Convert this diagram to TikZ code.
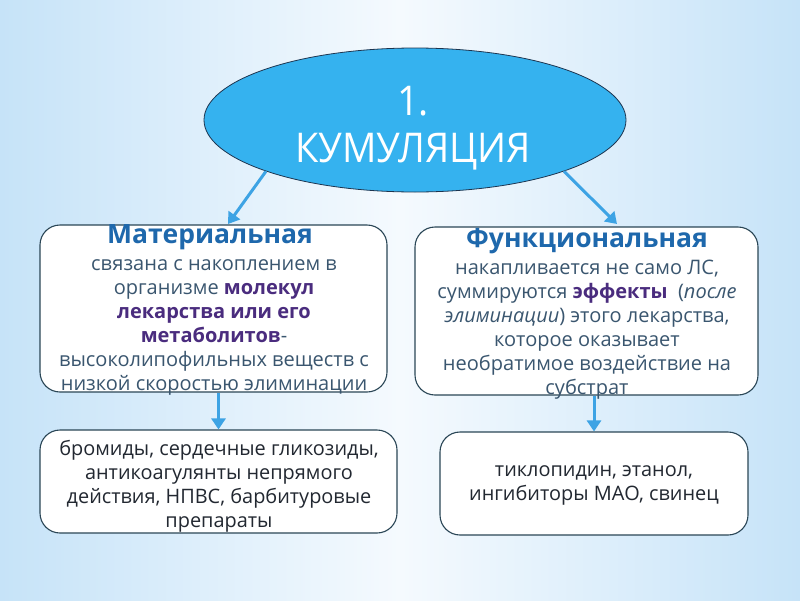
\documentclass[tikz,border=0pt]{standalone}
\usepackage{fontspec}
\setmainfont{Open Sans}
\newfontfamily\ellfont[FakeStretch=0.93]{Open Sans}
\usetikzlibrary{arrows.meta,shapes.geometric}
\definecolor{bgin}{HTML}{F5FAFE}
\definecolor{bgout}{HTML}{C6E3F8}
\definecolor{ellfill}{HTML}{35B2EF}
\definecolor{ellline}{HTML}{1D3550}
\definecolor{arrcol}{HTML}{3DA3E4}
\definecolor{boxline}{HTML}{2A4656}
\definecolor{ttlcol}{HTML}{1E68AC}
\definecolor{bodycol}{HTML}{3A566F}
\definecolor{purp}{HTML}{4A2C7E}
\definecolor{rescol}{HTML}{222831}
\tikzset{
  ellnode/.style={ellipse, draw=ellline, line width=0.8pt, fill=ellfill, inner sep=0pt},
  elltext/.style={text=white, align=center, font=\ellfont\fontsize{41}{47}\selectfont, inner sep=0pt},
  roundbox/.style={draw=boxline, line width=1.1pt, fill=white, rounded corners=20pt, inner sep=0pt},
  ttl/.style={text=ttlcol, font=\bfseries\fontsize{26.5}{30}\selectfont, inner sep=0pt},
  bodytxt/.style={text=bodycol, align=center, font=\fontsize{20}{24}\selectfont, inner sep=0pt},
  restxt/.style={text=rescol, align=center, font=\fontsize{19.9}{24}\selectfont, inner sep=0pt},
  arr/.style={draw=arrcol, line width=3pt, -{Triangle[width=14pt,length=11pt]}}
}
\begin{document}
\begin{tikzpicture}[x=1pt,y=-1pt]
\path[use as bounding box] (0,0) rectangle (800,600);
\shade[left color=bgout, right color=bgout, middle color=bgin] (0,0) rectangle (800,600);

% ellipse
\node[ellnode, minimum width=422pt, minimum height=144pt] (ell) at (415,120) {};
\node[elltext] (elltxt) at (413,128) {1.\\КУМУЛЯЦИЯ};

% upper boxes
\node[roundbox, minimum width=347pt, minimum height=167pt] (lbox) at (213.5,308.5) {};
\node[roundbox, minimum width=343pt, minimum height=168pt] (rbox) at (586.5,311) {};

% lower boxes
\node[roundbox, minimum width=357pt, minimum height=103pt] (lres) at (218.5,481.5) {};
\node[roundbox, minimum width=308pt, minimum height=103pt] (rres) at (594,483.5) {};

% connector endpoints
\coordinate (lin) at (228,224);
\coordinate (rin) at (617,224);

% arrows
\draw[arr] (ell.199) -- (lin);
\draw[arr] (ell.341) -- (rin);
\draw[arr] (lbox.south -| lres.north) -- (lres.north);
\draw[arr] (rbox.south -| rres.north) -- (rres.north);

% texts of the upper boxes
\node[ttl] (lttl) at (210,237) {Материальная};
\node[bodytxt] (ltxt) at (214,327) {связана с накоплением в\\
организме \textbf{\color{purp}молекул}\\
\textbf{\color{purp}лекарства или его}\\
\textbf{\color{purp}метаболитов}-\\
высоколипофильных веществ с\\
низкой скоростью элиминации};

\node[ttl] (rttl) at (587,241) {Функциональная};
\node[bodytxt] (rtxt) at (587,330) {накапливается не само ЛС,\\
суммируются \textbf{\color{purp}эффекты}\ \ (\textit{после}\\
\textit{элиминации}) этого лекарства,\\
которое оказывает\\
необратимое воздействие на\\
субстрат};

% texts of the lower boxes
\node[restxt] (ltres) at (219,486) {бромиды, сердечные гликозиды,\\
антикоагулянты непрямого\\
действия, НПВС, барбитуровые\\
препараты};
\node[restxt] (rtres) at (594,485) {тиклопидин, этанол,\\
ингибиторы МАО, свинец};
\end{tikzpicture}
\end{document}
